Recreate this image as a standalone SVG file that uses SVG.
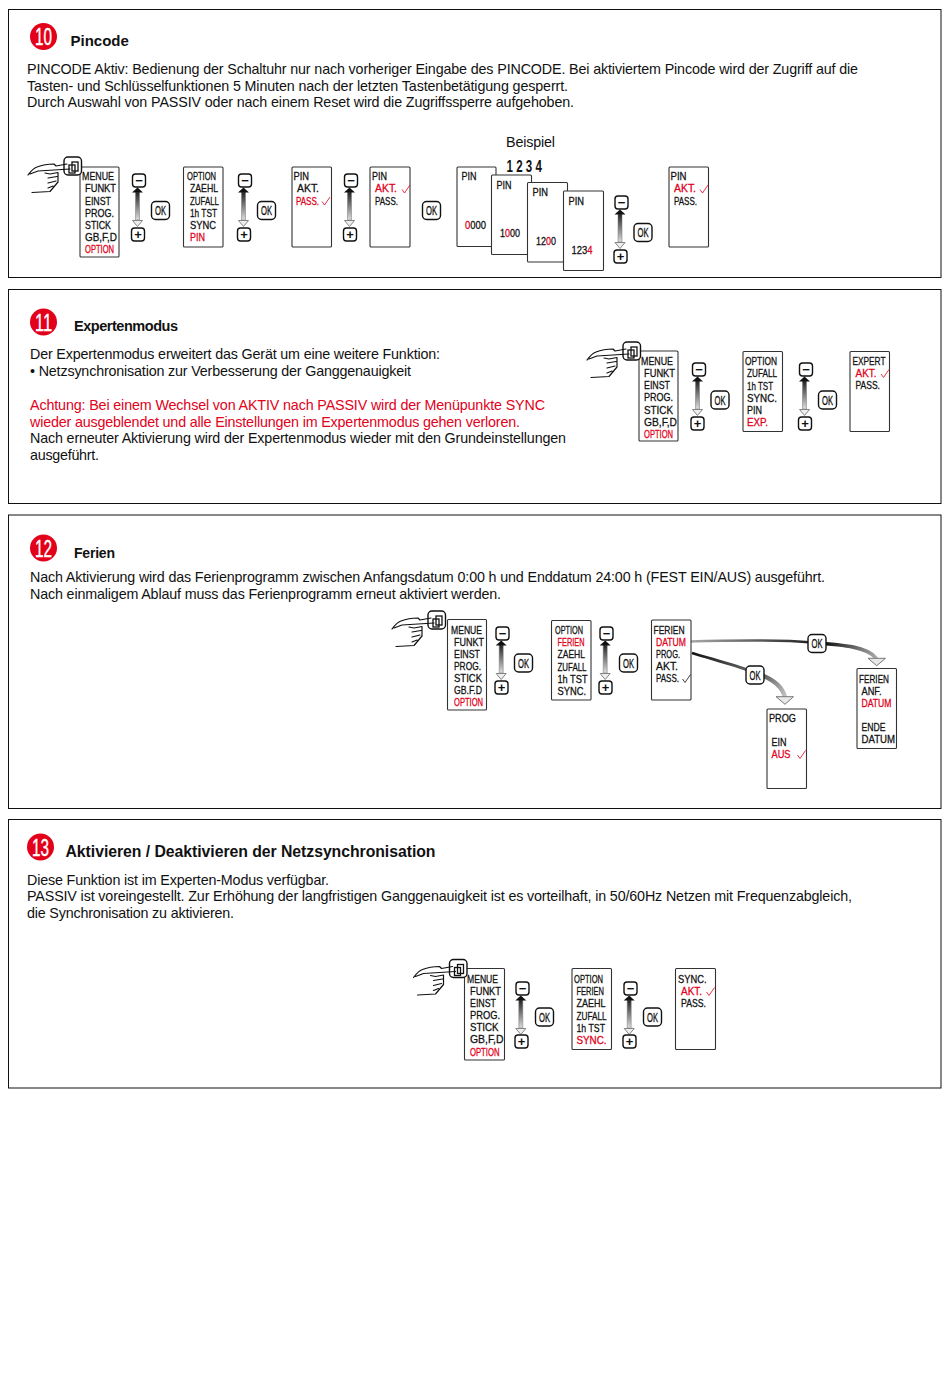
<svg xmlns="http://www.w3.org/2000/svg" width="950" height="1378" viewBox="0 0 950 1378">
<style>
text{font-family:"Liberation Sans",Arial,sans-serif;fill:#111}
.b{font-size:14.3px}
.h{font-weight:bold}
.red{fill:#e2001a}
.frame{fill:#fff;stroke:#111;stroke-width:1}
.p{fill:#fff;stroke:#333;stroke-width:1.1}
.t{font-size:11.5px;stroke:#111;stroke-width:.3}
.t.red,.t .red{stroke:#e2001a}
.key{fill:#fff;stroke:#111;stroke-width:1.4}
.ok{font-size:12px;stroke:#111;stroke-width:.3}
.s{font-size:13px;font-weight:bold;text-anchor:middle}
.c{fill:#e2001a}
.n{fill:#fff;stroke:#fff;stroke-width:.4;font-size:23px}
.ck{fill:none;stroke:#111;stroke-width:.8}
.ckr{fill:none;stroke:#e2001a;stroke-width:.8}
.hl{fill:none;stroke:#111;stroke-width:1.2;stroke-linecap:round;stroke-linejoin:round}
.hd{fill:#e8e8e8;stroke:#777;stroke-width:1}
</style>
<defs>
<linearGradient id="shaft" x1="0" y1="0" x2="0" y2="1"><stop offset="0" stop-color="#222"/><stop offset="1" stop-color="#ddd"/></linearGradient>
<linearGradient id="g1" gradientUnits="userSpaceOnUse" x1="689" y1="641" x2="825" y2="646"><stop offset="0" stop-color="#aaa"/><stop offset="1" stop-color="#111"/></linearGradient>
<linearGradient id="g1b" gradientUnits="userSpaceOnUse" x1="825" y1="646" x2="876" y2="658"><stop offset="0" stop-color="#111"/><stop offset="1" stop-color="#aaa"/></linearGradient>
<linearGradient id="g2" gradientUnits="userSpaceOnUse" x1="692" y1="653" x2="750" y2="671"><stop offset="0" stop-color="#111"/><stop offset="1" stop-color="#666"/></linearGradient>
<linearGradient id="g2b" gradientUnits="userSpaceOnUse" x1="760" y1="675" x2="785" y2="697"><stop offset="0" stop-color="#555"/><stop offset="1" stop-color="#c4c4c4"/></linearGradient>
<g id="updown">
<path d="M-3.500 18L.5 18L.5 46L-3.500 46Z" fill="url(#shaft)" stroke="#777" stroke-width=".5"/>
<path d="M-7 18.500L-1.500 13.500L4 18.500Z" fill="#111"/>
<path d="M-6.500 46.500L3.500 46.500L-1.500 52.500Z" fill="#eee" stroke="#777" stroke-width=".9"/>
</g>
<path id="check" d="M0 4.500L2.500 8L8 0"/>
<g id="hand">
<rect class="key" x="64" y="157" width="17.500" height="18" rx="4"/>
<rect x="72" y="162" width="6" height="9" fill="none" stroke="#111" stroke-width="1.300"/>
<rect x="69" y="165" width="6" height="8" fill="none" stroke="#111" stroke-width="1.300"/>
<path class="hl" d="M28 175C31 171 34 168 37 167C42 165 48 164 54 164L56 166L67 164M30 174L38 171L70 169M45 173L50 174L58 172.500L58 182L50 191.500L32 192.500M48 178L57 176.500M48 183L56 181M48 188L53 186"/>
</g>
</defs>

<rect class="frame" x="8.500" y="9.500" width="932.500" height="268"/>
<rect class="frame" x="8.500" y="289.500" width="932.500" height="214"/>
<rect class="frame" x="8.500" y="515" width="932.500" height="293.500"/>
<rect class="frame" x="8.500" y="819.500" width="932.500" height="268.500"/>

<g id="section-10-text">
<circle class="c" cx="43.500" cy="36.500" r="13.500"/>
<text class="n" x="35" y="45" textLength="17" lengthAdjust="spacingAndGlyphs">10</text>
<text class="h" x="70.500" y="46" font-size="15">Pincode</text>
<text class="b" x="27" y="74" textLength="831">PINCODE Aktiv: Bedienung der Schaltuhr nur nach vorheriger Eingabe des PINCODE. Bei aktiviertem Pincode wird der Zugriff auf die</text>
<text class="b" x="27" y="90.500" textLength="541">Tasten- und Schlüsselfunktionen 5 Minuten nach der letzten Tastenbetätigung gesperrt.</text>
<text class="b" x="27" y="107" textLength="547">Durch Auswahl von PASSIV oder nach einem Reset wird die Zugriffssperre aufgehoben.</text>
<text class="b" x="506" y="147" textLength="49">Beispiel</text>
<text transform="translate(506.500,172) scale(.68,1)" font-size="17" font-weight="bold" letter-spacing="4.800">1234</text>
</g>
<g id="section-11-text">
<circle class="c" cx="43.500" cy="322" r="13.500"/>
<text class="n" x="35" y="330.500" textLength="17" lengthAdjust="spacingAndGlyphs">11</text>
<text class="h" x="74" y="331" font-size="14.500" textLength="104">Expertenmodus</text>
<text class="b" x="30" y="359" textLength="410">Der Expertenmodus erweitert das Gerät um eine weitere Funktion:</text>
<text class="b" x="30" y="376" textLength="381">• Netzsynchronisation zur Verbesserung der Ganggenauigkeit</text>
<text class="b red" x="30" y="410" textLength="515">Achtung: Bei einem Wechsel von AKTIV nach PASSIV wird der Menüpunkte SYNC</text>
<text class="b red" x="30" y="426.500" textLength="490">wieder ausgeblendet und alle Einstellungen im Expertenmodus gehen verloren.</text>
<text class="b" x="30" y="443" textLength="536">Nach erneuter Aktivierung wird der Expertenmodus wieder mit den Grundeinstellungen</text>
<text class="b" x="30" y="460" textLength="69">ausgeführt.</text>
</g>
<g id="section-12-text">
<circle class="c" cx="43.500" cy="548" r="13.500"/>
<text class="n" x="35" y="556.500" textLength="17" lengthAdjust="spacingAndGlyphs">12</text>
<text class="h" x="74" y="558" font-size="14" textLength="41">Ferien</text>
<text class="b" x="30" y="582" textLength="795">Nach Aktivierung wird das Ferienprogramm zwischen Anfangsdatum 0:00 h und Enddatum 24:00 h (FEST EIN/AUS) ausgeführt.</text>
<text class="b" x="30" y="599" textLength="471">Nach einmaligem Ablauf muss das Ferienprogramm erneut aktiviert werden.</text>
</g>
<g id="section-13-text">
<circle class="c" cx="40.500" cy="847" r="13.500"/>
<text class="n" x="32" y="855.500" textLength="17" lengthAdjust="spacingAndGlyphs">13</text>
<text class="h" x="65.500" y="857" font-size="15.800" textLength="370">Aktivieren / Deaktivieren der Netzsynchronisation</text>
<text class="b" x="27" y="885" textLength="302">Diese Funktion ist im Experten-Modus verfügbar.</text>
<text class="b" x="27" y="901" textLength="825">PASSIV ist voreingestellt. Zur Erhöhung der langfristigen Ganggenauigkeit ist es vorteilhaft, in 50/60Hz Netzen mit Frequenzabgleich,</text>
<text class="b" x="27" y="918" textLength="207">die Synchronisation zu aktivieren.</text>
</g>

<g id="connectors">
<use href="#updown" x="139" y="174"/>
<use href="#updown" x="245" y="174"/>
<use href="#updown" x="351" y="174"/>
<use href="#updown" x="621.500" y="196"/>
<use href="#updown" x="699" y="363"/>
<use href="#updown" x="806" y="363"/>
<use href="#updown" x="502.700" y="627"/>
<use href="#updown" x="606.700" y="627"/>
<use href="#updown" x="522.300" y="982"/>
<use href="#updown" x="630.700" y="982"/>
<path d="M689 641.500C740 640 785 640 812 642.500" fill="none" stroke="url(#g1)" stroke-width="2.600"/>
<path d="M812 642.500C845 645 868 647 876.500 658.500" fill="none" stroke="url(#g1b)" stroke-width="3.600"/>
<path class="hd" d="M868 658.300L885.500 658.300L876.700 665.700Z"/>
<path d="M692 653C715 660 735 665 750 671" fill="none" stroke="url(#g2)" stroke-width="2.800"/>
<path d="M755 673C772 678 782 686 785 697" fill="none" stroke="url(#g2b)" stroke-width="4.500"/>
<path class="hd" d="M776 696.700L793.500 696.700L785 704.300Z"/>
</g>

<g id="s10-menu"><rect class="p" x="80" y="167" width="39" height="90" rx="1"/>
<text class="t" x="82" y="180" textLength="32" lengthAdjust="spacingAndGlyphs">MENUE</text>
<text class="t" x="85" y="192" textLength="31" lengthAdjust="spacingAndGlyphs">FUNKT</text>
<text class="t" x="85" y="204.500" textLength="26" lengthAdjust="spacingAndGlyphs">EINST</text>
<text class="t" x="85" y="217" textLength="29" lengthAdjust="spacingAndGlyphs">PROG.</text>
<text class="t" x="85" y="229" textLength="26" lengthAdjust="spacingAndGlyphs">STICK</text>
<text class="t" x="85" y="241" textLength="32" lengthAdjust="spacingAndGlyphs">GB,F,D</text>
<text class="t red" x="85" y="253" textLength="29" lengthAdjust="spacingAndGlyphs">OPTION</text></g>
<use id="s10-hand" href="#hand"/>
<g id="s10-minus1"><rect class="key" x="132.500" y="174" width="13" height="13" rx="3"/><text class="s" x="139" y="185">−</text></g>
<g id="s10-plus1"><rect class="key" x="131.500" y="228" width="13" height="13" rx="3"/><text class="s" x="138" y="239">+</text></g>
<g id="s10-ok1"><rect class="key" x="151.500" y="201.500" width="18" height="18" rx="4"/><text class="ok" x="155" y="215" textLength="11" lengthAdjust="spacingAndGlyphs">OK</text></g>

<g id="s10-option"><rect class="p" x="183.500" y="167" width="39.500" height="80" rx="1"/>
<text class="t" x="187" y="180" textLength="29" lengthAdjust="spacingAndGlyphs">OPTION</text>
<text class="t" x="190" y="192" textLength="28" lengthAdjust="spacingAndGlyphs">ZAEHL</text>
<text class="t" x="190" y="204.500" textLength="29" lengthAdjust="spacingAndGlyphs">ZUFALL</text>
<text class="t" x="190" y="217" textLength="27" lengthAdjust="spacingAndGlyphs">1h TST</text>
<text class="t" x="190" y="229" textLength="26" lengthAdjust="spacingAndGlyphs">SYNC</text>
<text class="t red" x="190" y="241" textLength="15" lengthAdjust="spacingAndGlyphs">PIN</text></g>
<g id="s10-minus2"><rect class="key" x="238.500" y="174" width="13" height="13" rx="3"/><text class="s" x="245" y="185">−</text></g>
<g id="s10-plus2"><rect class="key" x="237.500" y="228" width="13" height="13" rx="3"/><text class="s" x="244" y="239">+</text></g>
<g id="s10-ok2"><rect class="key" x="257.500" y="201.500" width="18" height="18" rx="4"/><text class="ok" x="261" y="215" textLength="11" lengthAdjust="spacingAndGlyphs">OK</text></g>

<g id="s10-pin-pass"><rect class="p" x="292" y="167" width="39.500" height="80" rx="1"/>
<text class="t" x="293.500" y="180" textLength="15.500" lengthAdjust="spacingAndGlyphs">PIN</text>
<text class="t" x="297" y="192" textLength="22" lengthAdjust="spacingAndGlyphs">AKT.</text>
<text class="t red" x="296" y="204.500" textLength="23" lengthAdjust="spacingAndGlyphs">PASS.</text>
<use class="ckr" href="#check" x="322" y="197"/></g>
<g id="s10-minus3"><rect class="key" x="344.500" y="174" width="13" height="13" rx="3"/><text class="s" x="351" y="185">−</text></g>
<g id="s10-plus3"><rect class="key" x="343.500" y="228" width="13" height="13" rx="3"/><text class="s" x="350" y="239">+</text></g>

<g id="s10-pin-akt"><rect class="p" x="370" y="167" width="40" height="80" rx="1"/>
<text class="t" x="372" y="180" textLength="15" lengthAdjust="spacingAndGlyphs">PIN</text>
<text class="t red" x="375" y="192" textLength="22" lengthAdjust="spacingAndGlyphs">AKT.</text>
<use class="ckr" href="#check" x="402" y="185"/>
<text class="t" x="375" y="204.500" textLength="23" lengthAdjust="spacingAndGlyphs">PASS.</text></g>
<g id="s10-ok3"><rect class="key" x="422.500" y="201.500" width="18" height="18" rx="4"/><text class="ok" x="426" y="215" textLength="11" lengthAdjust="spacingAndGlyphs">OK</text></g>

<g id="s10-pin0"><rect class="p" x="457" y="167" width="39" height="79.500" rx="1"/>
<text class="t" x="461.500" y="180" textLength="15" lengthAdjust="spacingAndGlyphs">PIN</text>
<text class="t" x="465" y="228.500" textLength="21" lengthAdjust="spacingAndGlyphs"><tspan class="red">0</tspan>000</text></g>
<g id="s10-pin1"><rect class="p" x="491.500" y="175" width="40" height="79.500" rx="1"/>
<text class="t" x="496.500" y="189" textLength="15" lengthAdjust="spacingAndGlyphs">PIN</text>
<text class="t" x="500" y="237" textLength="20" lengthAdjust="spacingAndGlyphs">1<tspan class="red">0</tspan>00</text></g>
<g id="s10-pin2"><rect class="p" x="527.500" y="182.500" width="40" height="79.500" rx="1"/>
<text class="t" x="532.500" y="196" textLength="15.500" lengthAdjust="spacingAndGlyphs">PIN</text>
<text class="t" x="536" y="244.500" textLength="20" lengthAdjust="spacingAndGlyphs">12<tspan class="red">0</tspan>0</text></g>
<g id="s10-pin3"><rect class="p" x="563.500" y="191" width="40" height="79.500" rx="1"/>
<text class="t" x="568.500" y="205" textLength="15.500" lengthAdjust="spacingAndGlyphs">PIN</text>
<text class="t" x="571.500" y="253.500" textLength="21" lengthAdjust="spacingAndGlyphs">123<tspan class="red">4</tspan></text></g>
<g id="s10-minus4"><rect class="key" x="615" y="196" width="13" height="13" rx="3"/><text class="s" x="621.500" y="207">−</text></g>
<g id="s10-plus4"><rect class="key" x="614" y="250" width="13" height="13" rx="3"/><text class="s" x="620.500" y="261">+</text></g>
<g id="s10-ok4"><rect class="key" x="634" y="223.500" width="18" height="18" rx="4"/><text class="ok" x="637.500" y="237" textLength="11" lengthAdjust="spacingAndGlyphs">OK</text></g>
<g id="s10-pin-end"><rect class="p" x="669" y="167" width="39.500" height="80" rx="1"/>
<text class="t" x="670.500" y="180" textLength="16" lengthAdjust="spacingAndGlyphs">PIN</text>
<text class="t red" x="674" y="192" textLength="22" lengthAdjust="spacingAndGlyphs">AKT.</text>
<use class="ckr" href="#check" x="700" y="185"/>
<text class="t" x="674" y="204.500" textLength="23" lengthAdjust="spacingAndGlyphs">PASS.</text></g>

<g id="s11-menu"><rect class="p" x="639" y="351" width="39" height="90" rx="1"/>
<text class="t" x="641" y="364.500" textLength="32" lengthAdjust="spacingAndGlyphs">MENUE</text>
<text class="t" x="644" y="376.500" textLength="31" lengthAdjust="spacingAndGlyphs">FUNKT</text>
<text class="t" x="644" y="389" textLength="26" lengthAdjust="spacingAndGlyphs">EINST</text>
<text class="t" x="644" y="401" textLength="29" lengthAdjust="spacingAndGlyphs">PROG.</text>
<text class="t" x="644" y="413.500" textLength="29" lengthAdjust="spacingAndGlyphs">STICK</text>
<text class="t" x="644" y="425.500" textLength="33" lengthAdjust="spacingAndGlyphs">GB,F,D</text>
<text class="t red" x="644" y="437.500" textLength="29" lengthAdjust="spacingAndGlyphs">OPTION</text></g>
<use id="s11-hand" href="#hand" x="559" y="185"/>
<g id="s11-minus1"><rect class="key" x="692.500" y="363" width="13" height="13" rx="3"/><text class="s" x="699" y="374">−</text></g>
<g id="s11-plus1"><rect class="key" x="691" y="417" width="13" height="13" rx="3"/><text class="s" x="697.500" y="428">+</text></g>
<g id="s11-ok1"><rect class="key" x="711" y="391" width="18" height="18" rx="4"/><text class="ok" x="714.500" y="404.500" textLength="11" lengthAdjust="spacingAndGlyphs">OK</text></g>
<g id="s11-option"><rect class="p" x="743" y="351.500" width="39.500" height="80" rx="1"/>
<text class="t" x="745" y="365" textLength="32" lengthAdjust="spacingAndGlyphs">OPTION</text>
<text class="t" x="747" y="377" textLength="30" lengthAdjust="spacingAndGlyphs">ZUFALL</text>
<text class="t" x="747" y="389.500" textLength="26" lengthAdjust="spacingAndGlyphs">1h TST</text>
<text class="t" x="747" y="402" textLength="30" lengthAdjust="spacingAndGlyphs">SYNC.</text>
<text class="t" x="747" y="414" textLength="15" lengthAdjust="spacingAndGlyphs">PIN</text>
<text class="t red" x="747" y="426" textLength="21" lengthAdjust="spacingAndGlyphs">EXP.</text></g>
<g id="s11-minus2"><rect class="key" x="799.500" y="363" width="13" height="13" rx="3"/><text class="s" x="806" y="374">−</text></g>
<g id="s11-plus2"><rect class="key" x="798.500" y="417" width="13" height="13" rx="3"/><text class="s" x="805" y="428">+</text></g>
<g id="s11-ok2"><rect class="key" x="818.500" y="391" width="18" height="18" rx="4"/><text class="ok" x="822" y="404.500" textLength="11" lengthAdjust="spacingAndGlyphs">OK</text></g>
<g id="s11-expert"><rect class="p" x="850" y="351.500" width="39.500" height="80" rx="1"/>
<text class="t" x="852.500" y="365" textLength="33" lengthAdjust="spacingAndGlyphs">EXPERT</text>
<text class="t red" x="855.500" y="377" textLength="21" lengthAdjust="spacingAndGlyphs">AKT.</text>
<use class="ckr" href="#check" x="881" y="369.500"/>
<text class="t" x="855.500" y="389" textLength="24.500" lengthAdjust="spacingAndGlyphs">PASS.</text></g>

<g id="s12-menu"><rect class="p" x="447.500" y="619.500" width="39" height="90.500" rx="1"/>
<text class="t" x="451" y="633.500" textLength="31" lengthAdjust="spacingAndGlyphs">MENUE</text>
<text class="t" x="454" y="645.500" textLength="30" lengthAdjust="spacingAndGlyphs">FUNKT</text>
<text class="t" x="454" y="657.500" textLength="26" lengthAdjust="spacingAndGlyphs">EINST</text>
<text class="t" x="454" y="669.500" textLength="27" lengthAdjust="spacingAndGlyphs">PROG.</text>
<text class="t" x="454" y="682" textLength="28" lengthAdjust="spacingAndGlyphs">STICK</text>
<text class="t" x="454" y="694" textLength="28" lengthAdjust="spacingAndGlyphs">GB.F.D</text>
<text class="t red" x="454" y="706" textLength="29" lengthAdjust="spacingAndGlyphs">OPTION</text></g>
<use id="s12-hand" href="#hand" x="364" y="454"/>
<g id="s12-minus1"><rect class="key" x="496" y="627" width="13" height="13" rx="3"/><text class="s" x="502.500" y="638">−</text></g>
<g id="s12-plus1"><rect class="key" x="495" y="681" width="13" height="13" rx="3"/><text class="s" x="501.500" y="692">+</text></g>
<g id="s12-ok1"><rect class="key" x="514.500" y="654" width="18" height="18" rx="4"/><text class="ok" x="518" y="667.500" textLength="11" lengthAdjust="spacingAndGlyphs">OK</text></g>
<g id="s12-option"><rect class="p" x="551.500" y="620.500" width="39.500" height="79.500" rx="1"/>
<text class="t" x="555" y="634" textLength="28" lengthAdjust="spacingAndGlyphs">OPTION</text>
<text class="t red" x="557.500" y="646" textLength="27" lengthAdjust="spacingAndGlyphs">FERIEN</text>
<text class="t" x="557.500" y="658" textLength="27.500" lengthAdjust="spacingAndGlyphs">ZAEHL</text>
<text class="t" x="557.500" y="670.500" textLength="29" lengthAdjust="spacingAndGlyphs">ZUFALL</text>
<text class="t" x="557.500" y="682.500" textLength="30" lengthAdjust="spacingAndGlyphs">1h TST</text>
<text class="t" x="557.500" y="694.500" textLength="28.500" lengthAdjust="spacingAndGlyphs">SYNC.</text></g>
<g id="s12-minus2"><rect class="key" x="600" y="627" width="13" height="13" rx="3"/><text class="s" x="606.500" y="638">−</text></g>
<g id="s12-plus2"><rect class="key" x="599" y="681" width="13" height="13" rx="3"/><text class="s" x="605.500" y="692">+</text></g>
<g id="s12-ok2"><rect class="key" x="619.500" y="654" width="18" height="18" rx="4"/><text class="ok" x="623" y="667.500" textLength="11" lengthAdjust="spacingAndGlyphs">OK</text></g>
<g id="s12-ferien"><rect class="p" x="651.500" y="620" width="39.500" height="80" rx="1"/>
<text class="t" x="653.500" y="634" textLength="31" lengthAdjust="spacingAndGlyphs">FERIEN</text>
<text class="t red" x="656" y="646" textLength="30" lengthAdjust="spacingAndGlyphs">DATUM</text>
<text class="t" x="656" y="658" textLength="24" lengthAdjust="spacingAndGlyphs">PROG.</text>
<text class="t" x="656" y="670" textLength="22" lengthAdjust="spacingAndGlyphs">AKT.</text>
<text class="t" x="656" y="682" textLength="23" lengthAdjust="spacingAndGlyphs">PASS.</text>
<use class="ck" href="#check" x="682.500" y="674.500"/></g>
<g id="s12-ok3"><rect class="key" x="808" y="634.500" width="18" height="18" rx="4"/><text class="ok" x="811.500" y="648" textLength="11" lengthAdjust="spacingAndGlyphs">OK</text></g>
<g id="s12-ok4"><rect class="key" x="746" y="666" width="18" height="18" rx="4"/><text class="ok" x="749.500" y="679.500" textLength="11" lengthAdjust="spacingAndGlyphs">OK</text></g>
<g id="s12-prog"><rect class="p" x="767" y="709" width="39.500" height="79.500" rx="1"/>
<text class="t" x="769" y="722" textLength="27" lengthAdjust="spacingAndGlyphs">PROG</text>
<text class="t" x="771.500" y="746" textLength="15" lengthAdjust="spacingAndGlyphs">EIN</text>
<text class="t red" x="771.500" y="758" textLength="19" lengthAdjust="spacingAndGlyphs">AUS</text>
<use class="ckr" href="#check" x="797.500" y="750.500"/></g>
<g id="s12-ferien-datum"><rect class="p" x="857" y="668.500" width="39.500" height="80" rx="1"/>
<text class="t" x="859" y="682.500" textLength="30" lengthAdjust="spacingAndGlyphs">FERIEN</text>
<text class="t" x="861.500" y="694.500" textLength="20" lengthAdjust="spacingAndGlyphs">ANF.</text>
<text class="t red" x="861.500" y="706.500" textLength="30" lengthAdjust="spacingAndGlyphs">DATUM</text>
<text class="t" x="861.500" y="731" textLength="24" lengthAdjust="spacingAndGlyphs">ENDE</text>
<text class="t" x="861.500" y="743" textLength="33.500" lengthAdjust="spacingAndGlyphs">DATUM</text></g>

<g id="s13-menu"><rect class="p" x="464.500" y="968.500" width="40" height="91.500" rx="1"/>
<text class="t" x="467" y="982.500" textLength="31" lengthAdjust="spacingAndGlyphs">MENUE</text>
<text class="t" x="470" y="994.500" textLength="31" lengthAdjust="spacingAndGlyphs">FUNKT</text>
<text class="t" x="470" y="1006.500" textLength="26" lengthAdjust="spacingAndGlyphs">EINST</text>
<text class="t" x="470" y="1019" textLength="30" lengthAdjust="spacingAndGlyphs">PROG.</text>
<text class="t" x="470" y="1031" textLength="28.500" lengthAdjust="spacingAndGlyphs">STICK</text>
<text class="t" x="470" y="1043" textLength="33.500" lengthAdjust="spacingAndGlyphs">GB,F,D</text>
<text class="t red" x="470" y="1056" textLength="29.500" lengthAdjust="spacingAndGlyphs">OPTION</text></g>
<use id="s13-hand" href="#hand" x="385.500" y="802.500"/>
<g id="s13-minus1"><rect class="key" x="516" y="982" width="13" height="13" rx="3"/><text class="s" x="522.500" y="993">−</text></g>
<g id="s13-plus1"><rect class="key" x="515" y="1035" width="13" height="13" rx="3"/><text class="s" x="521.500" y="1046">+</text></g>
<g id="s13-ok1"><rect class="key" x="535.500" y="1008" width="18" height="18" rx="4"/><text class="ok" x="539" y="1021.500" textLength="11" lengthAdjust="spacingAndGlyphs">OK</text></g>
<g id="s13-option"><rect class="p" x="572" y="968.500" width="39.500" height="81" rx="1"/>
<text class="t" x="574" y="983" textLength="29" lengthAdjust="spacingAndGlyphs">OPTION</text>
<text class="t" x="576.500" y="995" textLength="27.500" lengthAdjust="spacingAndGlyphs">FERIEN</text>
<text class="t" x="576.500" y="1007" textLength="29" lengthAdjust="spacingAndGlyphs">ZAEHL</text>
<text class="t" x="576.500" y="1019.500" textLength="30" lengthAdjust="spacingAndGlyphs">ZUFALL</text>
<text class="t" x="576.500" y="1031.500" textLength="28.500" lengthAdjust="spacingAndGlyphs">1h TST</text>
<text class="t red" x="576.500" y="1044" textLength="30" lengthAdjust="spacingAndGlyphs">SYNC.</text></g>
<g id="s13-minus2"><rect class="key" x="624" y="982" width="13" height="13" rx="3"/><text class="s" x="630.500" y="993">−</text></g>
<g id="s13-plus2"><rect class="key" x="623" y="1035" width="13" height="13" rx="3"/><text class="s" x="629.500" y="1046">+</text></g>
<g id="s13-ok2"><rect class="key" x="643.500" y="1008" width="18" height="18" rx="4"/><text class="ok" x="647" y="1021.500" textLength="11" lengthAdjust="spacingAndGlyphs">OK</text></g>
<g id="s13-sync"><rect class="p" x="675.500" y="968.500" width="40" height="81" rx="1"/>
<text class="t" x="678" y="982.500" textLength="28.500" lengthAdjust="spacingAndGlyphs">SYNC.</text>
<text class="t red" x="681" y="995" textLength="21" lengthAdjust="spacingAndGlyphs">AKT.</text>
<use class="ckr" href="#check" x="706.500" y="987.500"/>
<text class="t" x="681" y="1007" textLength="25" lengthAdjust="spacingAndGlyphs">PASS.</text></g>
</svg>
